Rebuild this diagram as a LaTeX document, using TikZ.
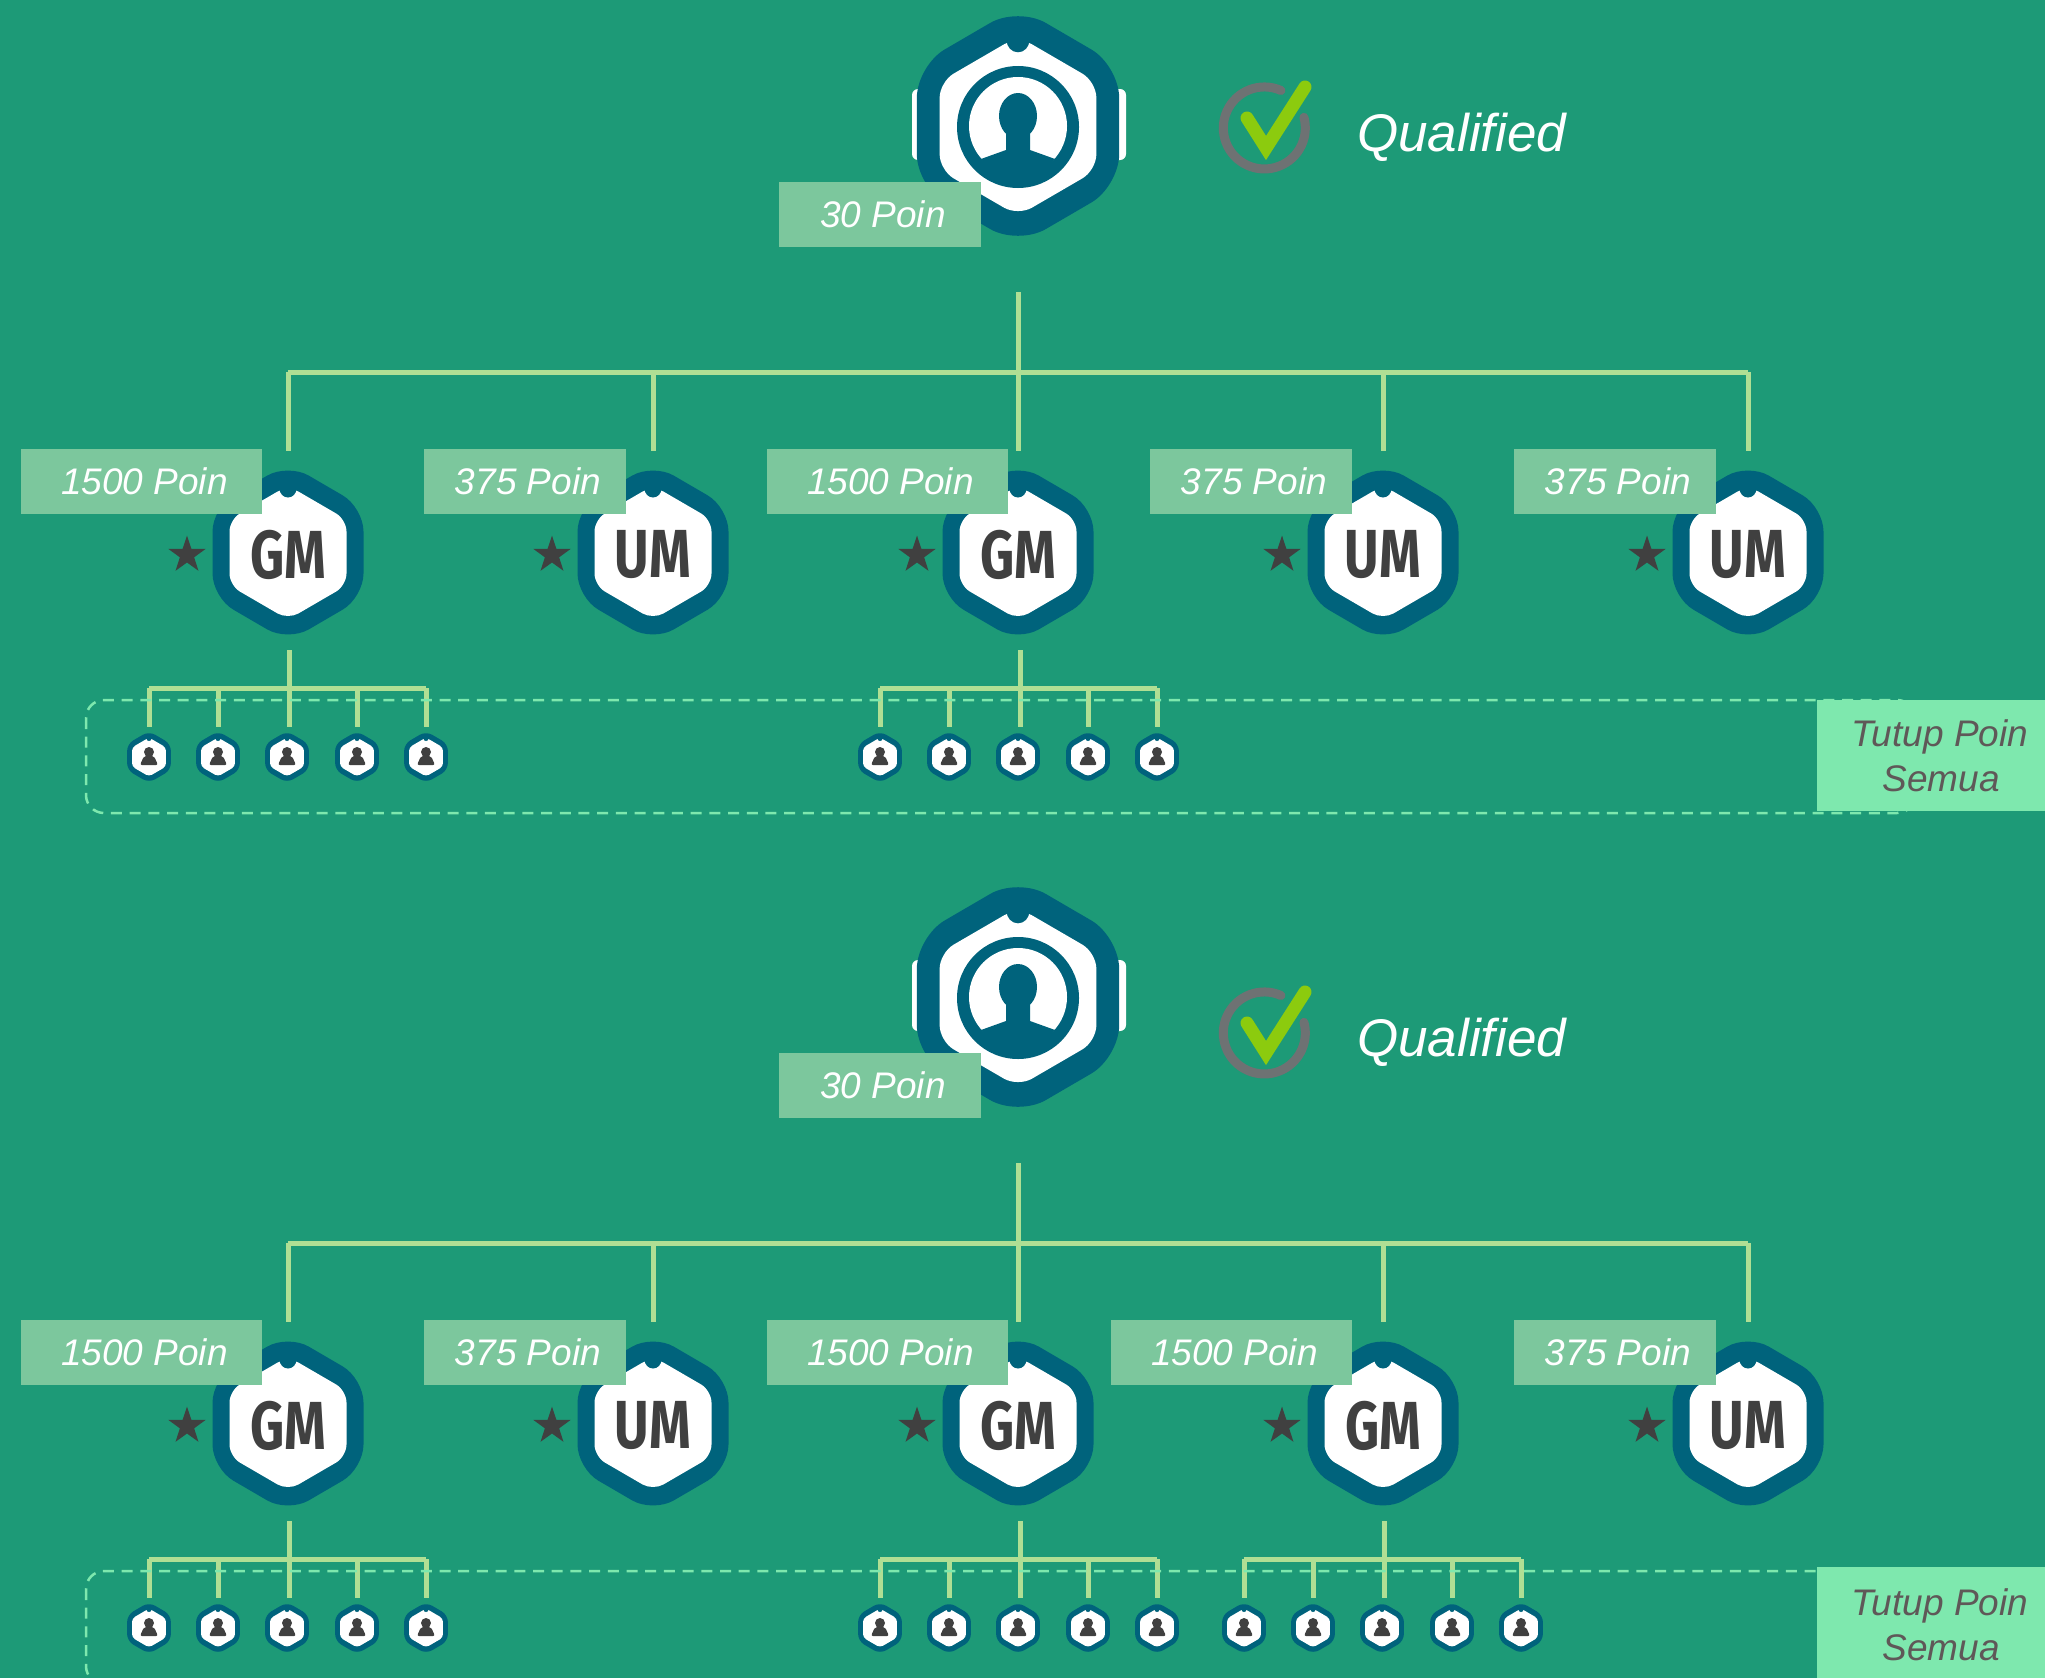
\documentclass[tikz,border=0pt]{standalone}
\usepackage{fontspec}
\setmainfont{Liberation Sans}
\newfontfamily\gradefont{Fira Sans}
\usetikzlibrary{calc,shapes.geometric}

\definecolor{panelbg}{HTML}{1D9A77}
\definecolor{badgeblue}{HTML}{00637C}
\definecolor{linkgreen}{HTML}{B0DF94}
\definecolor{poingreen}{HTML}{7CC79D}
\definecolor{closegreen}{HTML}{7EE8AE}
\definecolor{inkgrey}{HTML}{404040}
\definecolor{closeink}{HTML}{5F5858}
\definecolor{ringgrey}{HTML}{6E7273}
\definecolor{tickgreen}{HTML}{8CCB0E}

\tikzset{
  linkline/.style={draw=linkgreen,line width=5pt,line join=round},
  closeline/.style={draw=closegreen,line width=2.5pt,dash pattern=on 11pt off 7.7pt,rounded corners=18pt},
  poinbox/.style={fill=poingreen,text=white,inner sep=0pt,minimum height=65pt,
    font=\fontsize{37}{45}\selectfont\itshape},
  closebox/.style={fill=closegreen,text=closeink,inner sep=0pt,minimum width=248pt,align=center,
    font=\fontsize{37}{45}\selectfont\itshape},
  gradetext/.style={text=inkgrey,inner sep=0pt,font=\gradefont\bfseries\fontsize{68}{68}\selectfont},
  gradestar/.style={star,star points=5,star point ratio=2.6,fill=inkgrey,inner sep=0pt,minimum size=39pt},
  pics/hexbadge/.style={code={
    \fill[badgeblue,rounded corners=#1*24pt,scale=#1] (0,-89) -- (75.5,-45) -- (75.5,45) -- (0,89)
      -- (-75.5,45) -- (-75.5,-45) -- cycle;
    \fill[white,rounded corners=#1*12pt,scale=#1] (0,-67) -- (58.5,-33) -- (58.5,33) -- (0,67)
      -- (-58.5,33) -- (-58.5,-33) -- cycle;
    \fill[badgeblue,scale=#1] (0,-64) ellipse (8.5pt and 9pt);
  }},
}

\begin{document}
\begin{tikzpicture}[x=1pt,y=-1pt]
\useasboundingbox (0,0) rectangle (2045,1678);
\clip (0,0) rectangle (2045,1678);
\fill[panelbg] (0,0) rectangle (2045,1678);

\foreach \p/\dy/\qy/\fgrade/\fpoin/\fleft/\kids in {
    a/0/0/UM/375/1150/{1/288,3/1019},
    b/871/905/GM/1500/1111/{1/288,3/1019,4/1383}}{
\begin{scope}[yshift=-\dy pt]

% links from the head down to the five badges
\coordinate (hub\p) at (1018,292);
\coordinate (bus\p) at (1018,372);
\coordinate (busl\p) at (288,372);
\coordinate (busr\p) at (1748,372);
\draw[linkline] (hub\p) -- (bus\p);
\draw[linkline] (busl\p) -- (busr\p);
\foreach \m/\mx in {1/288,2/653,3/1018,4/1383,5/1748}{
  \coordinate (top\p\m) at (\mx,372);
  \coordinate (tip\p\m) at (\mx,451);
  \draw[linkline] (top\p\m) -- (tip\p\m);
}

% head badge
\fill[white,rounded corners=6pt] (912,89) rectangle (1126,160);
\pic (head\p) at (1018,126) {hexbadge=1.34};
\fill[badgeblue] (1018,127) circle (61pt);
\fill[white] (1018,126) circle (49pt);
\fill[badgeblue] (1018,116) ellipse (19pt and 23pt);
\fill[badgeblue] (981,159) -- (1006,150) -- (1006,132) -- (1030,132) -- (1030,150)
  -- (1055,159) -- (1040,176) -- (996,176) -- cycle;
\node[poinbox,minimum width=202pt] (poinhead\p) at (880,214.5) {\hspace*{6pt}30 Poin};

% five badges
\foreach \m/\mx/\grade/\poin/\bl/\br in {
    1/288/GM/1500/21/262,
    2/653/UM/375/424/626,
    3/1018/GM/1500/767/1008,
    4/1383/\fgrade/\fpoin/\fleft/1352,
    5/1748/UM/375/1514/1716}{
  \pic (hex\p\m) at (\mx,552.5) {hexbadge=1};
  \node[gradetext] (grade\p\m) at (\mx,554.5) {\scalebox{.78}[1]{\grade}};
  \node[gradestar] (star\p\m) at ($(\mx,555)+(-101,0)$) {};
  \node[poinbox,minimum width={(\br-\bl)*1pt}] (poin\p\m) at ({(\bl+\br)/2},481.5) {\hspace*{6pt}\poin\ Poin};
}

% small badges under the GM ones
\foreach \g/\gx in \kids{
  \coordinate (stem\p\g) at ($(\gx,650)+(1,0)$);
  \coordinate (fork\p\g) at ($(\gx,688)+(1,0)$);
  \coordinate (forkl\p\g) at ($(\gx,688)+(-139,0)$);
  \coordinate (forkr\p\g) at ($(\gx,688)+(138,0)$);
  \draw[linkline] (stem\p\g) -- (fork\p\g);
  \draw[linkline] (forkl\p\g) -- (forkr\p\g);
  \foreach \c/\cx in {1/-139,2/-70,3/1,4/69,5/138}{
    \coordinate (up\p\g\c) at ($(\gx,688)+(\cx,0)$);
    \coordinate (low\p\g\c) at ($(\gx,727)+(\cx,0)$);
    \draw[linkline] (up\p\g\c) -- (low\p\g\c);
  }
}

% closed points band
\draw[closeline] (86,700) rectangle (1915,813);
\foreach \g/\gx in \kids{
  \foreach \c/\cx in {1/-139,2/-70,3/-1,4/69,5/138}{
    \pic (kid\p\g\c) at ($(\gx,757)+(\cx,0)$) {hexbadge=.29};
    \fill[inkgrey] ($(\gx,752)+(\cx,0)$) circle (5pt);
    \fill[inkgrey,rounded corners=2pt] ($(\gx,756)+(\cx-5,0)$) -- ($(\gx,756)+(\cx+5,0)$)
      -- ($(\gx,765)+(\cx+9,0)$) -- ($(\gx,765)+(\cx-9,0)$) -- cycle;
  }
}
\end{scope}

% qualified mark
\begin{scope}[yshift=-\qy pt]
\draw[ringgrey,line width=9pt,line cap=round] (1281,90.5) arc[start angle=66,end angle=375,radius=41pt];
\draw[tickgreen,line width=13pt,line cap=round,line join=miter] (1247,118) -- (1266,148) -- (1305,87);
\node[anchor=base west,text=white,inner sep=0pt,font=\fontsize{53}{53}\selectfont\itshape]
  (qualified\p) at (1357,151) {Qualified};
\end{scope}
}

% tutup poin labels
\node[closebox,minimum height=111pt] (closea) at (1941,755.5) {\hspace*{-2pt}Tutup Poin\\Semua};
\node[closebox,minimum height=115pt] (closeb) at (1941,1624.5) {\hspace*{-2pt}Tutup Poin\\Semua};
\end{tikzpicture}
\end{document}
